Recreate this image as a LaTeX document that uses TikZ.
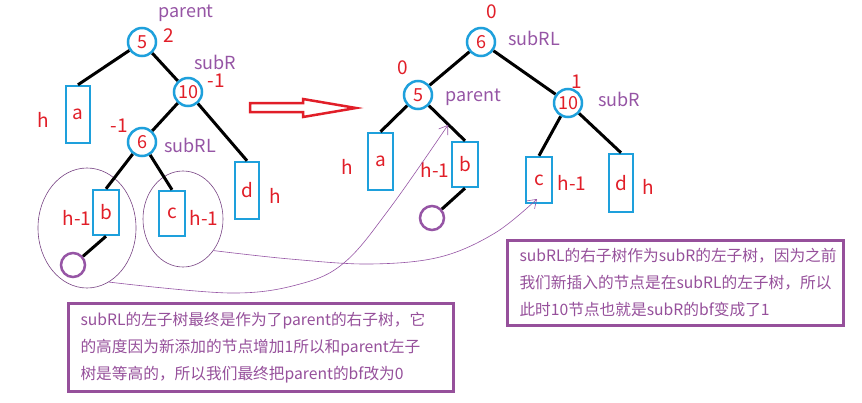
\documentclass[tikz,border=0pt]{standalone}
\usepackage{fontspec}
\setmainfont{Noto Sans CJK SC}
\usetikzlibrary{shapes.geometric,arrows.meta}
\definecolor{cblue}{RGB}{30,160,220}
\definecolor{cred}{RGB}{225,30,40}
\definecolor{cpurple}{RGB}{150,85,165}
\definecolor{bpurple}{RGB}{150,80,155}
\begin{document}
\begin{tikzpicture}[x=1pt,y=-1pt,
 treenode/.style={circle,draw=cblue,line width=2.5pt,minimum size=28pt,inner sep=0pt,text=cred,font=\fontsize{18}{20}\selectfont},
 subtree/.style={rectangle,draw=cblue,line width=2.5pt,inner sep=0pt,text=cred,font=\fontsize{19}{20}\selectfont},
 newleaf/.style={circle,draw=cpurple,line width=2.5pt,minimum size=24pt,inner sep=0pt},
 role/.style={text=cpurple,font=\fontsize{18}{20}\selectfont,inner sep=0pt},
 bal/.style={text=cred,font=\fontsize{19}{20}\selectfont,inner sep=0pt},
 branch/.style={line width=3pt,black},
 group/.style={ellipse,draw=cpurple!80!black,line width=0.6pt,inner sep=0pt},
 move/.style={draw=cpurple,line width=0.6pt,-{Straight Barb[length=8pt,width=11pt]}},
 note/.style={draw=bpurple,line width=3pt,text=bpurple,align=left,inner xsep=12pt,font=\fontsize{15.7}{27}\selectfont},
]
\useasboundingbox[fill=white] (0,0) rectangle (862,402);

% ---------- left tree ----------
\node[treenode] (L5) at (142,42) {5};
\node[treenode] (L10) at (188,92) {10};
\node[treenode] (L6) at (142,142) {6};
\node[subtree,minimum width=24pt,minimum height=57pt] (La) at (78,114.5) {a};
\node[subtree,minimum width=26pt,minimum height=45pt] (Lb) at (106,212.5) {b};
\node[subtree,minimum width=26pt,minimum height=45pt] (Lc) at (172,213.5) {c};
\node[subtree,minimum width=24pt,minimum height=57pt] (Ld) at (247,190.5) {d};
\node[newleaf] (Lnew) at (73,265) {};
\node[group,minimum width=98pt,minimum height=120pt] (eL) at (87,228) {};
\node[group,minimum width=80pt,minimum height=96pt] (eR) at (183,219) {};

\draw[branch] (L5) -- (La.north);
\draw[branch] (L5) -- (L10);
\draw[branch] (L10) -- (L6);
\draw[branch] (L10) -- (Ld.north);
\draw[branch] (L6) -- (Lb.north);
\draw[branch] (L6) -- (Lc.north);
\draw[branch] (Lb.south) -- (Lnew);

\node[role] (Lparent) at (186,13) {parent};
\node[bal] (Lb5) at (169,36) {2};
\node[role] (LsubR) at (215,62) {subR};
\node[bal] (Lb10) at (216,81) {-1};
\node[bal] (Lha) at (43,120) {h};
\node[bal] (Lb6) at (119,126) {-1};
\node[role] (LsubRL) at (190,145) {subRL};
\node[bal] (Lhb) at (77,218) {h-1};
\node[bal] (Lhc) at (204,218) {h-1};
\node[bal] (Lhd) at (275,196) {h};

% ---------- transformation arrow ----------
\draw[cred,line width=2.5pt,line join=miter] (250,103) -- (303,103) -- (303,99) -- (356,108) -- (303,117) -- (303,112) -- (250,112) -- cycle;

% ---------- right tree ----------
\node[treenode] (R6) at (481,42) {6};
\node[treenode] (R5) at (418,95) {5};
\node[treenode] (R10) at (568,103) {10};
\node[subtree,minimum width=25pt,minimum height=57pt] (Ra) at (380.5,161.5) {a};
\node[subtree,minimum width=26pt,minimum height=45pt] (Rb) at (465,164.5) {b};
\node[subtree,minimum width=26pt,minimum height=46pt] (Rc) at (539,180) {c};
\node[subtree,minimum width=24pt,minimum height=58pt] (Rd) at (621,183) {d};
\node[newleaf] (Rnew) at (432,218) {};

\draw[branch] (R6) -- (R5);
\draw[branch] (R6) -- (R10);
\draw[branch] (R5) -- (Ra.north);
\draw[branch] (R5) -- (Rb.north);
\draw[branch] (R10) -- (Rc.north);
\draw[branch] (R10) -- (Rd.north);
\draw[branch] (Rb.south) -- (Rnew);

\node[bal] (Rb6) at (492,12) {0};
\node[role] (RsubRL) at (534,38) {subRL};
\node[bal] (Rb5) at (403,68) {0};
\node[role] (Rparent) at (473,97) {parent};
\node[bal] (Rb10) at (577,82) {1};
\node[role] (RsubR) at (619,99) {subR};
\node[bal] (Rha) at (347,167) {h};
\node[bal] (Rhb) at (435,170) {h-1};
\node[bal] (Rhc) at (572,183) {h-1};
\node[bal] (Rhd) at (648,187) {h};

% ---------- movement curves ----------
\coordinate (s1) at (eL.-68);
\coordinate (t1) at (448,125);
\coordinate (s2) at (eR.-46);
\coordinate (t2) at (537,199);
\draw[move] plot[smooth,tension=0.6] coordinates {(s1) (230,293) (300,284) (345,262) (390,208) (t1)};
\draw[move] plot[smooth,tension=0.6] coordinates {(s2) (290,259) (370,264) (440,257) (495,233) (t2)};

% ---------- notes ----------
\node[note,text width=361pt,minimum height=88pt,anchor=north west] (noteL) at (67,302)
 {subRL的左子树最终是作为了parent的右子树，它\\的高度因为新添加的节点增加1所以和parent左子\\树是等高的，所以我们最终把parent的bf改为0};
\node[note,text width=312pt,minimum height=85pt,anchor=north west] (noteR) at (506,239)
 {subRL的右子树作为subR的左子树，因为之前\\我们新插入的节点是在subRL的左子树，所以\\此时10节点也就是subR的bf变成了1};
\end{tikzpicture}
\end{document}
